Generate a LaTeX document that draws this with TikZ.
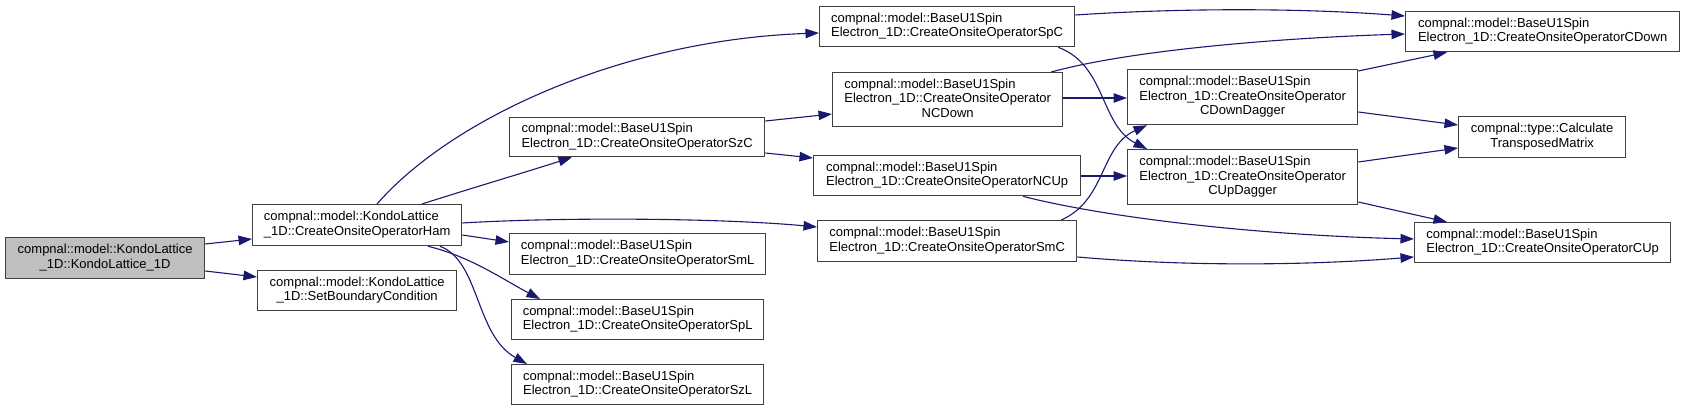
\documentclass[tikz,border=0pt]{standalone}
\usepackage{fontspec}
\setmainfont{Liberation Sans}
\usetikzlibrary{arrows.meta,calc}
\definecolor{edgec}{HTML}{191970}
\definecolor{bordc}{HTML}{404040}
\definecolor{rootf}{HTML}{BFBFBF}
\newcommand{\twol}[2]{\begin{tabular}{@{}l@{}}#1\\\multicolumn{1}{@{}c@{}}{#2}\end{tabular}}
\begin{document}
\begin{tikzpicture}[x=1pt,y=-1pt,
  font=\fontsize{13}{14.5}\selectfont,
  box/.style={draw=bordc, line width=1.3pt, fill=white, inner sep=0pt, anchor=north west},
  edge/.style={draw=edgec, line width=1.1pt, -{Triangle[length=13.5pt,width=9.5pt]}}]
\useasboundingbox (0,0) rectangle (1684,411);
% nodes
\node[box, fill=rootf, minimum width=199pt, minimum height=41pt] (root) at (5,237)
  {\twol{compnal::model::KondoLattice}{\_1D::KondoLattice\_1D}};
\node[box, minimum width=209pt, minimum height=41pt] (Ham) at (252,204)
  {\twol{compnal::model::KondoLattice}{\_1D::CreateOnsiteOperatorHam}};
\node[box, minimum width=199pt, minimum height=40pt] (SetBC) at (257,270)
  {\twol{compnal::model::KondoLattice}{\_1D::SetBoundaryCondition}};
\node[box, minimum width=255pt, minimum height=40pt] (SpC) at (819,6)
  {\twol{compnal::model::BaseU1Spin}{Electron\_1D::CreateOnsiteOperatorSpC}};
\node[box, minimum width=255pt, minimum height=39pt] (SzC) at (509,117)
  {\twol{compnal::model::BaseU1Spin}{Electron\_1D::CreateOnsiteOperatorSzC}};
\node[box, minimum width=256pt, minimum height=41pt] (SmL) at (509,233)
  {\twol{compnal::model::BaseU1Spin}{Electron\_1D::CreateOnsiteOperatorSmL}};
\node[box, minimum width=252pt, minimum height=40pt] (SpL) at (511,299)
  {\twol{compnal::model::BaseU1Spin}{Electron\_1D::CreateOnsiteOperatorSpL}};
\node[box, minimum width=252pt, minimum height=40pt] (SzL) at (511,364)
  {\twol{compnal::model::BaseU1Spin}{Electron\_1D::CreateOnsiteOperatorSzL}};
\node[box, minimum width=230pt, minimum height=54pt] (NCDown) at (832,72)
  {\twol{compnal::model::BaseU1Spin\\Electron\_1D::CreateOnsiteOperator}{NCDown}};
\node[box, minimum width=267pt, minimum height=40pt] (NCUp) at (813,155)
  {\twol{compnal::model::BaseU1Spin}{Electron\_1D::CreateOnsiteOperatorNCUp}};
\node[box, minimum width=259pt, minimum height=41pt] (SmC) at (817,220)
  {\twol{compnal::model::BaseU1Spin}{Electron\_1D::CreateOnsiteOperatorSmC}};
\node[box, minimum width=230pt, minimum height=55pt] (CDD) at (1127,69)
  {\twol{compnal::model::BaseU1Spin\\Electron\_1D::CreateOnsiteOperator}{CDownDagger}};
\node[box, minimum width=230pt, minimum height=55pt] (CUD) at (1127,149)
  {\twol{compnal::model::BaseU1Spin\\Electron\_1D::CreateOnsiteOperator}{CUpDagger}};
\node[box, minimum width=274pt, minimum height=40pt] (CDown) at (1405,11)
  {\twol{compnal::model::BaseU1Spin}{Electron\_1D::CreateOnsiteOperatorCDown}};
\node[box, minimum width=167pt, minimum height=41pt] (TM) at (1458,116)
  {\twol{compnal::type::Calculate}{TransposedMatrix}};
\node[box, minimum width=256pt, minimum height=40pt] (CUp) at (1414,222)
  {\twol{compnal::model::BaseU1Spin}{Electron\_1D::CreateOnsiteOperatorCUp}};
% edges
\draw[edge] ($(root.north east)+(0,7)$) -- ($(Ham.north west)+(0,35)$);
\draw[edge] ($(root.north east)+(0,34)$) -- ($(SetBC.north west)+(0,7)$);
\draw[edge] ($(Ham.north west)+(125,0)$) .. controls +(73,-84) and +(-199,7) .. ($(SpC.north west)+(0,27)$);
\draw[edge] ($(Ham.north west)+(170,0)$) .. controls +(50,-16) and +(-50,16) .. ($(SzC.south west)+(63,0)$);
\draw[edge] ($(Ham.north east)+(0,19)$) .. controls +(99,-6) and +(-97,-9) .. ($(SmC.north west)+(0,7)$);
\draw[edge] ($(Ham.north east)+(0,31)$) -- ($(SmL.north west)+(0,9)$);
\draw[edge] ($(Ham.south west)+(176,0)$) .. controls +(42,10) and +(-36,-19) .. ($(SpL.north west)+(29,0)$);
\draw[edge] ($(Ham.south west)+(188,0)$) .. controls +(40,15) and +(-52,-29) .. ($(SzL.north west)+(16,0)$);
\draw[edge] ($(SzC.north east)+(0,4)$) -- ($(NCDown.north west)+(0,42)$);
\draw[edge] ($(SzC.north east)+(0,36)$) -- ($(NCUp.north west)+(0,3)$);
\draw[edge] ($(SpC.north east)+(0,9)$) .. controls +(106,-7) and +(-105,-8) .. ($(CDown.north west)+(0,5)$);
\draw[edge] ($(NCDown.north east)+(-12,0)$) .. controls +(80,-22) and +(-125,4) .. ($(CDown.north west)+(0,23)$);
\draw[edge] ($(SpC.south east)+(-17,0)$) .. controls +(48,18) and +(-47,-24) .. ($(CUD.north west)+(20,0)$);
\draw[edge] ($(SmC.north east)+(-16,0)$) .. controls +(45,-20) and +(-47,21) .. ($(CDD.south west)+(20,0)$);
\draw[edge] ($(NCDown.north east)+(0,26)$) -- ($(CDD.north west)+(0,29)$);
\draw[edge] ($(NCUp.north east)+(0,21)$) -- ($(CUD.north west)+(0,27)$);
\draw[edge] ($(NCUp.south west)+(210,0)$) .. controls +(77,20) and +(-164,-4) .. ($(CUp.north west)+(0,17)$);
\draw[edge] ($(SmC.north east)+(0,37)$) .. controls +(104,9) and +(-114,9) .. ($(CUp.north west)+(0,35)$);
\draw[edge] ($(CDD.north east)+(0,2)$) -- ($(CDown.south west)+(42,0)$);
\draw[edge] ($(CDD.north east)+(0,43)$) -- ($(TM.north west)+(0,9)$);
\draw[edge] ($(CUD.north east)+(0,13)$) -- ($(TM.north west)+(0,32)$);
\draw[edge] ($(CUD.north east)+(0,53)$) -- ($(CUp.north west)+(33,0)$);
\end{tikzpicture}
\end{document}
